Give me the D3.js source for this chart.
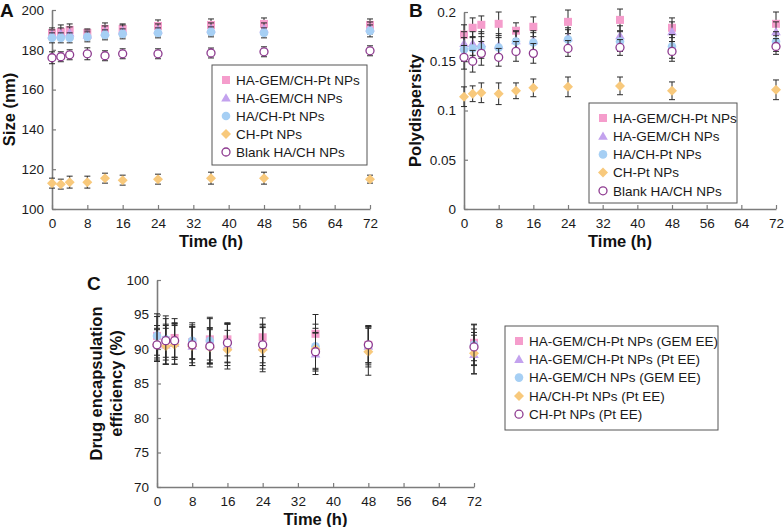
<!DOCTYPE html>
<html><head><meta charset="utf-8">
<script src="https://cdn.jsdelivr.net/npm/d3@7"></script>
<style>body{margin:0;background:#fff}svg{display:block;font-family:"Liberation Sans",Arial,sans-serif}</style>
</head><body><svg id="c" width="784" height="527"></svg>
<script>
// ---------- data ----------
const times = [0, 2, 4, 8, 12, 16, 24, 36, 48, 72];
const timeTicks = [0, 8, 16, 24, 32, 40, 48, 56, 64, 72];

// Panel A: size (nm)
const sizeTicks = [100, 120, 140, 160, 180, 200];
const sizeNames = ["HA-GEM/CH-Pt NPs", "HA-GEM/CH NPs", "HA/CH-Pt NPs", "CH-Pt NPs", "Blank HA/CH NPs"];
const sizeHAGEMCHPt = [188.5, 189, 190, 188.5, 190.5, 190.5, 192, 192.5, 193, 192.5];
const sizeHAGEMCH   = [187.5, 188, 188.5, 187.5, 189, 189.5, 190, 190.5, 190.5, 191];
const sizeHACHPt    = [186, 186, 186, 186.5, 187.5, 188, 188.5, 189, 188.5, 189.5];
const sizeCHPt      = [113, 112.5, 113.5, 113.5, 115.5, 114.5, 115, 115.5, 115.5, 115];
const sizeBlank     = [176, 176.5, 177.5, 178, 177, 178, 178, 178.4, 179, 179.5];
const sizeErrHAGEMCHPt = [2.5, 3.5, 3, 2, 3, 2.5, 3, 3, 3, 3];
const sizeErrHAGEMCH   = [2.5, 3, 3, 2.5, 3, 3, 3, 3, 3, 3];
const sizeErrHACHPt    = [2.5, 2.5, 2.5, 2.5, 2.5, 2.5, 2.5, 2.5, 2.5, 3];
const sizeErrCHPt      = [2.5, 2.5, 3, 3, 2.5, 2.5, 2.5, 3, 3, 2];
const sizeErrBlank     = [3, 2.5, 2.5, 3, 2.5, 2.5, 2.5, 2.5, 2.5, 2.5];

// Panel B: polydispersity
const pdiTicks = [0, 0.05, 0.1, 0.15, 0.2];
const pdiTickLabels = ["0", "0.05", "0.1", "0.15", "0.2"];
const pdiHAGEMCHPt = [0.177, 0.184, 0.187, 0.188, 0.181, 0.185, 0.19, 0.192, 0.184, 0.188];
const pdiHAGEMCH   = [0.168, 0.168, 0.168, 0.166, 0.171, 0.171, 0.174, 0.176, 0.18, 0.18];
const pdiHACHPt    = [0.162, 0.163, 0.164, 0.164, 0.17, 0.169, 0.172, 0.17, 0.165, 0.17];
const pdiCHPt      = [0.114, 0.117, 0.118, 0.117, 0.12, 0.123, 0.124, 0.125, 0.12, 0.121];
const pdiBlank     = [0.154, 0.15, 0.158, 0.154, 0.16, 0.158, 0.163, 0.164, 0.16, 0.165];
const pdiErrHAGEMCHPt = [0.01, 0.01, 0.009, 0.012, 0.008, 0.01, 0.012, 0.011, 0.01, 0.012];
const pdiErrHAGEMCH   = [0.012, 0.012, 0.012, 0.012, 0.01, 0.01, 0.01, 0.01, 0.01, 0.01];
const pdiErrHACHPt    = [0.012, 0.012, 0.011, 0.01, 0.01, 0.01, 0.01, 0.01, 0.012, 0.01];
const pdiErrBlank     = [0.012, 0.011, 0.012, 0.009, 0.01, 0.01, 0.008, 0.008, 0.01, 0.008];
const pdiErrCHPt      = [0.01, 0.008, 0.01, 0.011, 0.008, 0.009, 0.01, 0.009, 0.009, 0.01];

// Panel C: drug encapsulation efficiency (%)
const eeTicks = [70, 75, 80, 85, 90, 95, 100];
const eeNames = ["HA-GEM/CH-Pt NPs (GEM EE)", "HA-GEM/CH-Pt NPs (Pt EE)", "HA-GEM/CH NPs (GEM EE)", "HA/CH-Pt NPs (Pt EE)", "CH-Pt NPs (Pt EE)"];
const eeHAGEMCHPtGEM = [91.9, 91.3, 91.6, 91.0, 91.4, 91.4, 91.7, 92.2, 90.6, 90.9];
const eeHAGEMCHPtPt  = [90.8, 90.6, 90.8, 90.4, 90.5, 90.6, 90.3, 89.3, 90.4, 89.2];
const eeHAGEMCHGEM   = [91.9, 91.4, 91.1, 91.2, 91.2, 90.8, 90.6, 90.4, 90.5, 90.6];
const eeHACHPtPt     = [90.6, 90.4, 90.6, 90.4, 90.2, 89.9, 89.9, 90.0, 89.6, 89.4];
const eeCHPtPt       = [90.6, 91.2, 91.2, 90.6, 90.4, 90.9, 90.6, 89.6, 90.6, 90.3];
const eeErrHAGEMCHPtGEM = [3.2, 3.5, 2.8, 2.5, 3.0, 2.4, 2.8, 2.8, 2.6, 2.6];
const eeErrHAGEMCHPtPt  = [2.6, 2.8, 3.0, 2.8, 2.6, 3.0, 3.2, 3.0, 3.0, 2.8];
const eeErrHAGEMCHGEM   = [2.8, 3.0, 2.6, 2.6, 3.4, 2.8, 3.0, 3.2, 2.8, 3.0];
const eeErrHACHPtPt     = [2.4, 2.6, 2.8, 2.8, 2.8, 2.8, 3.2, 3.0, 3.4, 3.0];
const eeErrCHPtPt       = [2.2, 2.4, 2.4, 2.6, 2.4, 2.8, 2.6, 2.8, 2.6, 2.6];

// ---------- styles ----------
const styles = [
  {shape: "square",  fill: "#f59dcc", stroke: "none"},
  {shape: "triangle",fill: "#c3a2ee", stroke: "none"},
  {shape: "circle",  fill: "#a6cff4", stroke: "none"},
  {shape: "diamond", fill: "#f8c97c", stroke: "none"},
  {shape: "open",    fill: "#ffffff", stroke: "#8e3b90"}
];

const svg = d3.select("#c");
const axisColor = "#7c7c7c";

function marker(g, st, x, y) {
  if (st.shape === "square") {
    g.append("rect").attr("x", x - 4).attr("y", y - 4).attr("width", 8).attr("height", 8).attr("fill", st.fill);
  } else if (st.shape === "triangle") {
    g.append("path").attr("d", `M${x},${y-4.8}L${x+4.8},${y+3.6}L${x-4.8},${y+3.6}Z`).attr("fill", st.fill);
  } else if (st.shape === "circle") {
    g.append("circle").attr("cx", x).attr("cy", y).attr("r", 4.3).attr("fill", st.fill);
  } else if (st.shape === "diamond") {
    g.append("path").attr("d", `M${x},${y-5}L${x+5},${y}L${x},${y+5}L${x-5},${y}Z`).attr("fill", st.fill);
  } else {
    g.append("circle").attr("cx", x).attr("cy", y).attr("r", 4).attr("fill", "#fff").attr("stroke", st.stroke).attr("stroke-width", 1.3);
  }
}

function panel(cfg) {
  const x = d3.scaleLinear().domain([0, 72]).range([cfg.x0, cfg.x1]);
  const y = d3.scaleLinear().domain(cfg.yDomain).range([cfg.yB, cfg.yT]);
  const g = svg.append("g");

  // axes
  const ax = g.append("g").attr("transform", `translate(0,${cfg.yB})`)
    .call(d3.axisBottom(x).tickValues(timeTicks).tickSizeInner(-4).tickSizeOuter(0).tickPadding(8));
  const ay = g.append("g").attr("transform", `translate(${cfg.x0},0)`)
    .call(d3.axisLeft(y).tickValues(cfg.yTicks).tickFormat((d, i) => cfg.yLabels ? cfg.yLabels[i] : d)
      .tickSizeInner(-4).tickSizeOuter(0).tickPadding(8));
  [ax, ay].forEach(a => {
    a.select(".domain").attr("stroke", axisColor).attr("stroke-width", 1.6);
    a.selectAll(".tick line").attr("stroke", axisColor).attr("stroke-width", 1.2);
    a.selectAll(".tick text").attr("fill", "#1a1a1a").style("font-size", "13.5px");
  });
  ax.selectAll(".tick text").attr("dy", "0.85em");

  // series
  cfg.series.forEach((s, si) => {
    const st = styles[si];
    const sg = g.append("g");
    times.forEach((t, i) => {
      const cx = x(t), v = s.values[i], e = s.err[i];
      const yt = y(v + e), yb = y(v - e);
      sg.append("line").attr("x1", cx).attr("x2", cx).attr("y1", yt).attr("y2", yb).attr("stroke", "#2a2a2a").attr("stroke-width", 1);
      [yt, yb].forEach(yy => sg.append("line").attr("x1", cx - 3).attr("x2", cx + 3).attr("y1", yy).attr("y2", yy).attr("stroke", "#2a2a2a").attr("stroke-width", 1));
    });
    times.forEach((t, i) => marker(sg, st, x(t), y(s.values[i])));
  });

  // legend
  const L = cfg.legend;
  g.append("rect").attr("x", L.x).attr("y", L.y).attr("width", L.w).attr("height", L.h)
    .attr("fill", "#fff").attr("stroke", "#555").attr("stroke-width", 1);
  cfg.names.forEach((n, i) => {
    const ly = L.y + 15 + i * L.step;
    marker(g, styles[i], L.x + 14, ly);
    g.append("text").attr("x", L.x + 24).attr("y", ly).attr("dy", "0.36em")
      .style("font-size", "13.5px").attr("fill", "#1a1a1a").text(n);
  });

  // titles
  g.append("text").attr("x", (cfg.x0 + cfg.x1) / 2).attr("y", cfg.yB + 38).attr("text-anchor", "middle")
    .style("font-size", "16.5px").style("font-weight", "bold").attr("fill", "#111").text("Time (h)");
  cfg.yTitle.forEach((tt, i) => {
    g.append("text").attr("transform", `translate(${cfg.yTitleX[i]},${(cfg.yT + cfg.yB) / 2}) rotate(-90)`)
      .attr("text-anchor", "middle").style("font-size", "16.5px").style("font-weight", "bold").attr("fill", "#111").text(tt);
  });
  g.append("text").attr("x", cfg.lab[0]).attr("y", cfg.lab[1]).style("font-size", "19px").style("font-weight", "bold")
    .attr("fill", "#111").text(cfg.label);
}

panel({
  x0: 52, x1: 370, yT: 10, yB: 209, yDomain: [100, 200], yTicks: sizeTicks,
  series: [
    {values: sizeHAGEMCHPt, err: sizeErrHAGEMCHPt},
    {values: sizeHAGEMCH, err: sizeErrHAGEMCH},
    {values: sizeHACHPt, err: sizeErrHACHPt},
    {values: sizeCHPt, err: sizeErrCHPt},
    {values: sizeBlank, err: sizeErrBlank}
  ],
  names: sizeNames, legend: {x: 212, y: 65, w: 155, h: 100, step: 18},
  yTitle: ["Size (nm)"], yTitleX: [15], label: "A", lab: [0, 17]
});

panel({
  x0: 464, x1: 776, yT: 12, yB: 209, yDomain: [0, 0.2], yTicks: pdiTicks, yLabels: pdiTickLabels,
  series: [
    {values: pdiHAGEMCHPt, err: pdiErrHAGEMCHPt},
    {values: pdiHAGEMCH, err: pdiErrHAGEMCH},
    {values: pdiHACHPt, err: pdiErrHACHPt},
    {values: pdiCHPt, err: pdiErrCHPt},
    {values: pdiBlank, err: pdiErrBlank}
  ],
  names: sizeNames, legend: {x: 589, y: 103, w: 148, h: 100, step: 18.2},
  yTitle: ["Polydispersity"], yTitleX: [421], label: "B", lab: [409, 17]
});

panel({
  x0: 157, x1: 474, yT: 280, yB: 487, yDomain: [70, 100], yTicks: eeTicks,
  series: [
    {values: eeHAGEMCHPtGEM, err: eeErrHAGEMCHPtGEM},
    {values: eeHAGEMCHPtPt, err: eeErrHAGEMCHPtPt},
    {values: eeHAGEMCHGEM, err: eeErrHAGEMCHGEM},
    {values: eeHACHPtPt, err: eeErrHACHPtPt},
    {values: eeCHPtPt, err: eeErrCHPtPt}
  ],
  names: eeNames, legend: {x: 505, y: 326, w: 213, h: 104, step: 18.3},
  yTitle: ["Drug encapsulation", "efficiency (%)"], yTitleX: [102, 122], label: "C", lab: [87, 290]
});
</script></body></html>
